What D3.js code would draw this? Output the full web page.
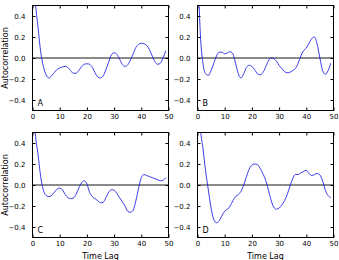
<!DOCTYPE html>
<html>
<head>
<meta charset="utf-8">
<script src="https://cdn.jsdelivr.net/npm/d3@7"></script>
<style>
  html, body { margin: 0; padding: 0; background: #fff; }
  svg { display: block; }
  text { font-family: "DejaVu Sans", sans-serif; }
</style>
</head>
<body>
<script>
const lags = d3.range(50);
const acfA = [1.0, 0.55, 0.3, 0.06, -0.08, -0.16, -0.19, -0.17, -0.14, -0.11,
  -0.095, -0.085, -0.08, -0.09, -0.12, -0.145, -0.145, -0.12, -0.085, -0.06,
  -0.055, -0.06, -0.09, -0.14, -0.18, -0.19, -0.17, -0.11, -0.04, 0.03,
  0.05, 0.035, -0.01, -0.06, -0.08, -0.065, -0.02, 0.04, 0.1, 0.13,
  0.14, 0.135, 0.12, 0.08, 0.02, -0.035, -0.06, -0.05, 0.0, 0.07];
const acfB = [1.0, 0.25, -0.05, -0.15, -0.165, -0.12, -0.05, 0.02, 0.055, 0.055,
  0.04, 0.05, 0.06, 0.04, -0.05, -0.15, -0.19, -0.15, -0.09, -0.07,
  -0.08, -0.11, -0.15, -0.16, -0.14, -0.09, -0.03, 0.0, -0.005, -0.03,
  -0.07, -0.1, -0.13, -0.14, -0.135, -0.12, -0.1, -0.05, 0.02, 0.07,
  0.095, 0.14, 0.185, 0.2, 0.13, 0.0, -0.12, -0.155, -0.12, -0.05];
const acfC = [1.0, 0.5, 0.3, 0.08, -0.05, -0.1, -0.11, -0.1, -0.07, -0.04,
  -0.03, -0.045, -0.09, -0.12, -0.13, -0.125, -0.09, -0.03, 0.02, 0.04,
  0.01, -0.07, -0.11, -0.13, -0.15, -0.17, -0.165, -0.12, -0.07, -0.045,
  -0.05, -0.08, -0.12, -0.16, -0.2, -0.25, -0.26, -0.24, -0.15, -0.03,
  0.07, 0.1, 0.09, 0.08, 0.07, 0.06, 0.05, 0.04, 0.045, 0.07];
const acfD = [1.0, 0.55, 0.35, 0.13, -0.05, -0.22, -0.33, -0.36, -0.34, -0.29,
  -0.25, -0.23, -0.2, -0.15, -0.11, -0.09, -0.06, 0.0, 0.08, 0.15,
  0.19, 0.2, 0.195, 0.16, 0.11, 0.05, -0.04, -0.14, -0.21, -0.23,
  -0.22, -0.19, -0.15, -0.09, -0.01, 0.06, 0.1, 0.1, 0.115, 0.13,
  0.14, 0.11, 0.09, 0.1, 0.11, 0.095, 0.04, -0.05, -0.1, -0.12];
const panelLabels = ["A", "B", "C", "D"];
const xTicks = [0, 10, 20, 30, 40, 50];
const yTicks = [-0.4, -0.2, 0.0, 0.2, 0.4];
const xLabel = "Time Lag";
const yLabel = "Autocorrelation";

const series = [acfA, acfB, acfC, acfD];

const W = 339, H = 260;
const colLeft = [32.5, 197.5];
const rowTop = [5.5, 132.5];
const pw = 136, ph = 105;

const svg = d3.select("body").append("svg")
  .attr("width", W).attr("height", H);

const defs = svg.append("defs");

series.forEach((vals, i) => {
  const col = i % 2, row = Math.floor(i / 2);
  const x0 = colLeft[col], y0 = rowTop[row];
  const x = d3.scaleLinear().domain([0, 50]).range([x0, x0 + pw]);
  const y = d3.scaleLinear().domain([-0.5, 0.5]).range([y0 + ph, y0]);

  const clipId = "clip" + i;
  defs.append("clipPath").attr("id", clipId)
    .append("rect").attr("x", x0).attr("y", y0).attr("width", pw).attr("height", ph);

  const g = svg.append("g");

  // zero line
  g.append("line")
    .attr("x1", x(0)).attr("x2", x(50))
    .attr("y1", y(0)).attr("y2", y(0))
    .attr("stroke", "#8a8a8a").attr("stroke-width", 2);

  // data line
  const line = d3.line()
    .x((d, k) => x(lags[k]))
    .y(d => y(d))
    .curve(d3.curveMonotoneX);
  g.append("path")
    .datum(vals)
    .attr("clip-path", `url(#${clipId})`)
    .attr("fill", "none")
    .attr("stroke", "#1a1ae6")
    .attr("stroke-width", 0.85)
    .attr("d", line);

  // axes
  const fs = "7px";
  const ax = [
    g.append("g").attr("transform", `translate(0,${y0 + ph})`)
      .call(d3.axisBottom(x).tickValues(xTicks).tickSize(-3).tickPadding(4).tickFormat(d3.format("d"))),
    g.append("g").attr("transform", `translate(0,${y0})`)
      .call(d3.axisTop(x).tickValues(xTicks).tickSize(-3).tickFormat("")),
    g.append("g").attr("transform", `translate(${x0},0)`)
      .call(d3.axisLeft(y).tickValues(yTicks).tickSize(-3).tickPadding(7).tickFormat(d3.format(".1f"))),
    g.append("g").attr("transform", `translate(${x0 + pw},0)`)
      .call(d3.axisRight(y).tickValues(yTicks).tickSize(-3).tickFormat(""))
  ];
  ax.forEach(a => {
    a.select(".domain").remove();
    a.selectAll("line").attr("stroke", "#000");
    a.selectAll("text").attr("fill", "#000").style("font-size", fs)
      .style("font-family", "'DejaVu Sans', sans-serif");
  });

  // border
  g.append("rect")
    .attr("x", x0).attr("y", y0).attr("width", pw).attr("height", ph)
    .attr("fill", "none").attr("stroke", "#000").attr("stroke-width", 1);

  // panel label
  g.append("text")
    .attr("x", x0 + 5).attr("y", y0 + ph - 4.5)
    .style("font-size", "8px")
    .text(panelLabels[i]);

  if (col === 0) {
    g.append("text")
      .attr("transform", `translate(7.5,${y0 + ph / 2}) rotate(-90)`)
      .attr("text-anchor", "middle")
      .style("font-size", "8px")
      .text(yLabel);
  }
  if (row === 1) {
    g.append("text")
      .attr("x", x0 + pw / 2).attr("y", 258.5)
      .attr("text-anchor", "middle")
      .style("font-size", "8px")
      .text(xLabel);
  }
});
</script>
</body>
</html>
